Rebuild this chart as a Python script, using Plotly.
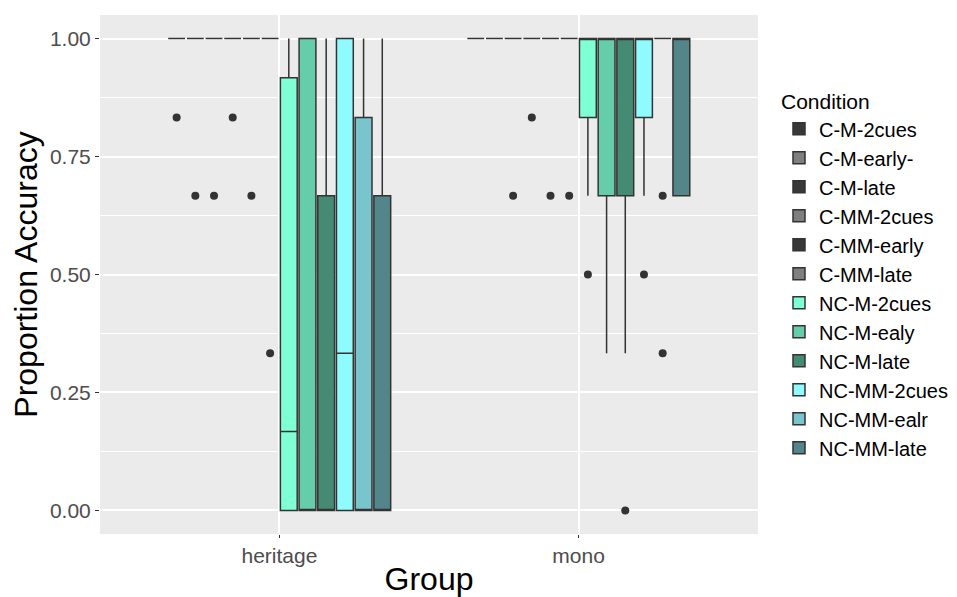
import plotly.graph_objects as go

groups = ["heritage", "mono"]
conditions = ["C-M-2cues", "C-M-early-", "C-M-late", "C-MM-2cues", "C-MM-early", "C-MM-late",
              "NC-M-2cues", "NC-M-ealy", "NC-M-late", "NC-MM-2cues", "NC-MM-ealr", "NC-MM-late"]
colors = ["#383838", "#7f7f7f", "#383838", "#7f7f7f", "#383838", "#7f7f7f",
          "#7fffd4", "#66cdaa", "#458b74", "#90fbff", "#7ac5cd", "#53868b"]

# box statistics per condition: [heritage, mono]
q1 = [[1, 1], [1, 1], [1, 1], [1, 1], [1, 1], [1, 1],
      [0, 0.833], [0, 0.667], [0, 0.667], [0, 0.833], [0, 1], [0, 0.667]]
median = [[1, 1], [1, 1], [1, 1], [1, 1], [1, 1], [1, 1],
          [0.167, 1], [0, 1], [0, 1], [0.333, 1], [0, 1], [0, 1]]
q3 = [[1, 1], [1, 1], [1, 1], [1, 1], [1, 1], [1, 1],
      [0.917, 1], [1, 1], [0.667, 1], [1, 1], [0.833, 1], [0.667, 1]]
lowerfence = [[1, 1], [1, 1], [1, 1], [1, 1], [1, 1], [1, 1],
              [0, 0.667], [0, 0.333], [0, 0.333], [0, 0.667], [0, 1], [0, 0.667]]
upperfence = [[1, 1], [1, 1], [1, 1], [1, 1], [1, 1], [1, 1],
              [1, 1], [1, 1], [1, 1], [1, 1], [1, 1], [1, 1]]
outliers = [[[0.833], []], [[0.667], []], [[0.667], [0.667]], [[0.833], [0.833]],
            [[0.667], [0.667]], [[0.333], [0.667]],
            [[], [0.5]], [[], []], [[], [0.0]], [[], [0.5]], [[], [0.667, 0.333]], [[], []]]

fig = go.Figure()
for i, c in enumerate(conditions):
    # each sample row holds the median (inside the whiskers, so never drawn) plus the outliers
    samples = [[median[i][g]] + outliers[i][g] for g in range(len(groups))]
    fig.add_trace(go.Box(
        name=c, x=groups, y=samples,
        q1=q1[i], median=median[i], q3=q3[i],
        lowerfence=lowerfence[i], upperfence=upperfence[i],
        boxpoints="outliers", jitter=0, pointpos=0,
        fillcolor=colors[i],
        line=dict(color="#333333", width=1.5),
        marker=dict(color="#333333", size=8, line=dict(width=0)),
        whiskerwidth=0,
    ))

fig.update_layout(
    width=957, height=597,
    margin=dict(l=100, r=199, t=15, b=63),
    paper_bgcolor="white", plot_bgcolor="#ebebeb",
    boxmode="group", boxgap=0.25, boxgroupgap=0.1,
    font=dict(family="Liberation Sans, Arial, sans-serif"),
    legend=dict(
        title=dict(text="Condition", font=dict(size=21, color="#000000")),
        font=dict(size=20, color="#000000"),
        xref="container", yref="paper",
        x=0.814, xanchor="left", y=0.871, yanchor="top",
        maxheight=540,
        bgcolor="rgba(0,0,0,0)", tracegroupgap=0,
    ),
    showlegend=True,
)
fig.update_xaxes(
    type="category", range=[-0.6, 1.6], automargin=False,
    showgrid=True, gridcolor="white", gridwidth=1.5,
    ticks="outside", ticklen=3, tickcolor="#333333", tickwidth=1,
    tickfont=dict(size=21, color="#4d4d4d"),
    title=dict(text="Group", font=dict(size=32, color="#000000"), standoff=6),
    zeroline=False, showline=False,
)
fig.update_yaxes(
    range=[-0.05, 1.05], automargin=False,
    tickvals=[0, 0.25, 0.5, 0.75, 1.0], ticktext=["0.00", "0.25", "0.50", "0.75", "1.00"],
    showgrid=True, gridcolor="white", gridwidth=1.5,
    minor=dict(tickvals=[0.125, 0.375, 0.625, 0.875], showgrid=True, gridcolor="white", gridwidth=0.6),
    ticks="outside", ticklen=4, tickcolor="#333333", tickwidth=1,
    tickfont=dict(size=21, color="#4d4d4d"),
    title=dict(text="Proportion Accuracy", font=dict(size=32, color="#000000"), standoff=2),
    zeroline=False, showline=False,
)

fig.write_html("out.html", config={"displayModeBar": False},
               post_script="document.body.style.margin='0';")
